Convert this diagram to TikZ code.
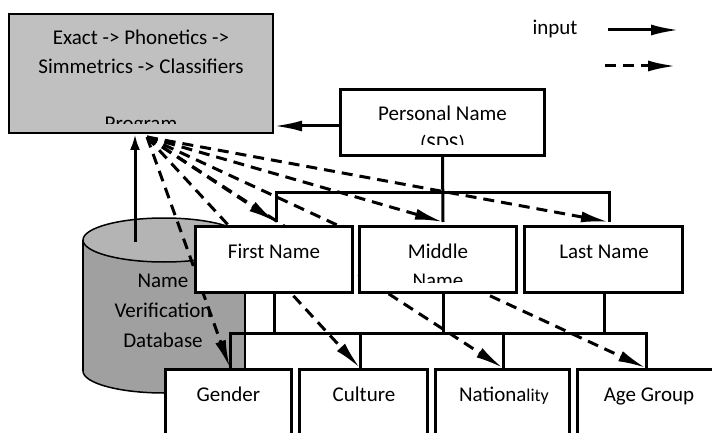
\documentclass[tikz,border=0pt]{standalone}
\usepackage{fontspec}
\setmainfont{Carlito}
\usetikzlibrary{arrows.meta}
\definecolor{progfill}{RGB}{192,192,192}
\definecolor{cylbody}{RGB}{160,160,160}
\definecolor{cyltop}{RGB}{180,180,180}
\begin{document}
\begin{tikzpicture}[x=1pt,y=-1pt,
  lab/.style={anchor=base, inner sep=0pt, font=\fontsize{21}{25}\selectfont},
  boxw/.style={draw, line width=3pt, fill=white, inner sep=0pt},
  progbox/.style={draw, line width=2pt, fill=progfill, inner sep=0pt},
  cylline/.style={line width=1.5pt},
  conn/.style={line width=3pt},
  dsh/.style={line width=3pt, dash pattern=on 11pt off 7pt, -{Latex[length=28pt,width=11pt]}},
  arr/.style={line width=3pt, -{Latex[length=28pt,width=11pt]}},
  arrsmall/.style={line width=3pt, -{Latex[length=16pt,width=10pt]}},
]
\useasboundingbox (0,0) rectangle (712,433);
\clip (0,0) rectangle (712,433);

% ---- database cylinder ----
\fill[cylbody] (83,240) rectangle (245,371);
\fill[cylbody] (164,371) ellipse[x radius=81, y radius=22];
\begin{scope}
  \clip (70,371) rectangle (260,400);
  \draw[cylline] (164,371) ellipse[x radius=81, y radius=22];
\end{scope}
\draw[cylline] (83,240) -- (83,371) (245,240) -- (245,371);
\draw[cylline, fill=cyltop] (164,240) ellipse[x radius=81, y radius=22];
\node[lab] (db1) at (163,287) {Name};
\node[lab] (db2) at (163,317) {Verification};
\node[lab] (db3) at (163,347) {Database};

% ---- program box ----
\node[progbox, minimum width=264pt, minimum height=119pt] (prog) at (141,73.5) {};
\begin{scope}
  \clip (10,15) rectangle (272,124);
  \node[lab] (p1) at (141,45) {Exact -> Phonetics ->};
  \node[lab] (p2) at (141,74) {Simmetrics -> Classifiers};
  \node[lab] (p3) at (141,131) {Program};
\end{scope}

% ---- personal name box ----
\node[boxw, minimum width=204pt, minimum height=66pt] (pn) at (442.5,122.5) {};

% ---- coordinates ----
\coordinate (src) at (147,137);
\coordinate (dbtop) at (135,242);
\coordinate (j1) at (443,192);
\coordinate (f1a) at (276,222);
\coordinate (f1b) at (443,222);
\coordinate (f1c) at (609,222);
\coordinate (j2) at (443,333);
\coordinate (f2a) at (230,368);
\coordinate (f2b) at (360,368);
\coordinate (f2c) at (503,368);
\coordinate (f2d) at (646,368);

% ---- up arrow database -> program ----
\draw[arrsmall] (dbtop) -- (dbtop |- prog.south);

% ---- tree connectors level 1 ----
\draw[conn] (pn.south) -- (f1b);
\draw[conn] (f1a) -- (f1a |- j1) -- (f1c |- j1) -- (f1c);

% ---- row 2 boxes (placed before connectors use them) ----
\path (274,259.25) coordinate (c1) (438,259.25) coordinate (c2) (603.5,259.25) coordinate (c3);

% ---- tree connectors level 2 ----
\draw[conn] (274,292) -- (274 ,333);
\draw[conn] (443,292) -- (j2);
\draw[conn] (604,292) -- (604,333);
\draw[conn] (f2a) -- (f2a |- j2) -- (f2d |- j2) -- (f2d);
\draw[conn] (f2b) -- (f2b |- j2);
\draw[conn] (f2c) -- (f2c |- j2);

% ---- dashed arrows ----
\foreach \t in {f1a,f1b,f1c,f2a,f2b,f2c,f2d}
  \draw[dsh] (src) -- (\t);

% ---- row 2 boxes ----
\node[boxw, minimum width=157pt, minimum height=66.5pt] (first) at (c1) {};
\node[boxw, minimum width=157pt, minimum height=66.5pt] (middle) at (c2) {};
\node[boxw, minimum width=158pt, minimum height=66.5pt] (last) at (c3) {};
\node[lab] (t1) at (274,258) {First Name};
\node[lab] (t3) at (604,258) {Last Name};
\begin{scope}
  \clip (361,228) rectangle (515,282);
  \node[lab] (t2a) at (438,258) {Middle};
  \node[lab] (t2b) at (438,287) {Name};
\end{scope}

% ---- row 3 boxes ----
\node[boxw, minimum width=126pt, minimum height=76pt] (gender) at (228.5,407.5) {};
\node[boxw, minimum width=128pt, minimum height=76pt] (culture) at (363.5,407.5) {};
\node[boxw, minimum width=134pt, minimum height=76pt] (nation) at (502.5,407.5) {};
\node[boxw, minimum width=136pt, minimum height=76pt] (age) at (645.5,407.5) {};
\node[lab] (g) at (228.5,401) {Gender};
\node[lab] (c) at (364,401) {Culture};
\node[lab] (n) at (504,401) {Nationa{\fontsize{18}{20}\selectfont lity}};
\node[lab] (a) at (649,401) {Age Group};

% ---- personal name text ----
\begin{scope}
  \clip (342,91) rectangle (543,145);
  \node[lab] (pn1) at (442.5,121) {Personal Name};
  \node[lab] (pn2) at (442.5,150) {(SDS)};
\end{scope}
\coordinate (pnw) at ([yshift=-3.5pt]pn.west);
\draw[arr] (pnw) -- (pnw -| prog.east);

% ---- legend ----
\node[lab] (inp) at (555,35) {input};
\coordinate (l1s) at (608,30);
\coordinate (l1e) at (679,30);
\coordinate (l2s) at (605,66);
\coordinate (l2e) at (676,66);
\draw[arr] (l1s) -- (l1e);
\draw[dsh] (l2s) -- (l2e);
\end{tikzpicture}
\end{document}
